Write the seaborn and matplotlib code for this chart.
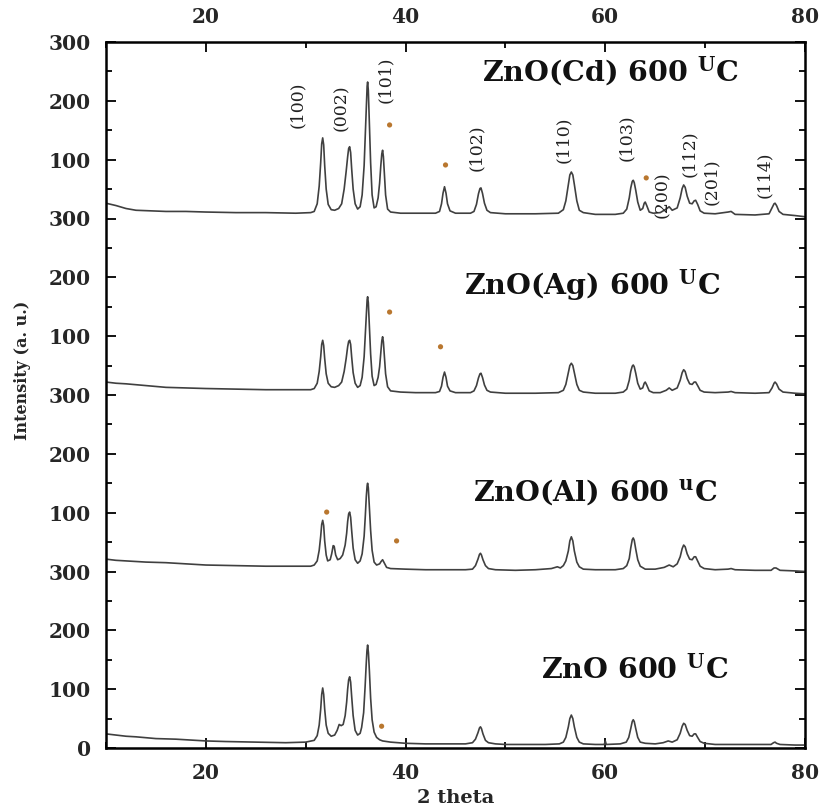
import matplotlib
matplotlib.use("Agg")
import matplotlib.pyplot as plt
import seaborn as sns
import pandas as pd
from matplotlib.ticker import MultipleLocator, FixedLocator, FixedFormatter

# ---------------- data (2-theta, intensity incl. stacking offset) ----------------
zno_pts = [(10, 24), (11, 22), (12, 20), (13, 19), (15, 16), (17, 15), (20, 12), (22, 11), (25, 10), (28, 9), (30, 10),
           (30.85, 13), (31.15, 21), (31.35, 39), (31.5, 66), (31.6, 91), (31.7, 102), (31.8, 91), (31.9, 66),
           (32.05, 39), (32.25, 25), (32.55, 20),
           (32.9, 22), (33.15, 30), (33.35, 40), (33.55, 38), (33.75, 40), (33.95, 55), (34.1, 78), (34.2, 100),
           (34.3, 116), (34.4, 121), (34.5, 112), (34.6, 88), (34.75, 55), (34.95, 30), (35.2, 22), (35.45, 25),
           (35.6, 35), (35.8, 60), (35.95, 105), (36.05, 140), (36.13, 165), (36.2, 175), (36.28, 162), (36.38, 130),
           (36.5, 85), (36.65, 48), (36.85, 27), (37.1, 18), (37.4, 14), (37.7, 12),
           (38.5, 10), (40, 8), (42, 7), (44, 7), (46, 7),
           (46.7, 9), (47.0, 15), (47.25, 26), (47.4, 34), (47.5, 36), (47.6, 33), (47.75, 24), (48.0, 13), (48.3, 9),
           (49, 7), (50, 6), (52, 6), (54, 6), (55.4, 7),
           (55.8, 10), (56.05, 18), (56.3, 36), (56.45, 50), (56.6, 56), (56.75, 50), (56.9, 36), (57.15, 18),
           (57.4, 10), (57.8, 7), (59, 6), (59.9, 6), (60.0, 12), (60.1, 6),
           (61.5, 7), (62.1, 10), (62.35, 18), (62.55, 33), (62.7, 45), (62.8, 48), (62.9, 45), (63.05, 33),
           (63.25, 18), (63.5, 10), (64, 8), (65, 7), (65.8, 9), (66.3, 12), (66.7, 10),
           (67.2, 14), (67.5, 25), (67.7, 37), (67.85, 42), (68.0, 40), (68.2, 30), (68.45, 21), (68.7, 20),
           (68.9, 24), (69.05, 24), (69.25, 18), (69.5, 11), (69.9, 8), (71, 6), (73, 6), (75, 6), (76.6, 6),
           (76.85, 9), (77, 10), (77.15, 8), (77.5, 6), (79, 5), (80, 5)]

al_pts = [(10, 321), (11, 319), (12, 318), (14, 316), (16, 315), (18, 313), (20, 311), (23, 310), (26, 309), (29, 309),
          (30.5, 309),
          (30.85, 311), (31.15, 318), (31.35, 336), (31.5, 360), (31.6, 380), (31.7, 387), (31.8, 378), (31.9, 352),
          (32.05, 328), (32.2, 318),
          (32.45, 320), (32.6, 330), (32.75, 344), (32.85, 343), (33.0, 328), (33.2, 320), (33.45, 322),
          (33.7, 328), (33.95, 345), (34.1, 365), (34.2, 385), (34.3, 398), (34.4, 401), (34.5, 392), (34.6, 370),
          (34.75, 340), (34.95, 320), (35.2, 314), (35.45, 318),
          (35.65, 330), (35.85, 360), (35.97, 395), (36.07, 428), (36.15, 446), (36.2, 450), (36.27, 442),
          (36.37, 410), (36.5, 370), (36.65, 336), (36.85, 316), (37.1, 311), (37.4, 313),
          (37.55, 317), (37.7, 320), (37.85, 315), (38.1, 307), (38.5, 305), (40, 304), (42, 303), (44, 303),
          (46, 303),
          (46.7, 304), (47.0, 310), (47.25, 321), (47.4, 329), (47.5, 331), (47.6, 328), (47.75, 320), (48.0, 310),
          (48.3, 305), (49, 303), (51, 302), (53, 303), (54.6, 305), (55.2, 308), (55.5, 306), (55.8, 310),
          (56.05, 318), (56.3, 335), (56.45, 352), (56.6, 359), (56.75, 352), (56.9, 335), (57.15, 316), (57.4, 308),
          (57.8, 304), (59, 303), (61, 303), (61.8, 305),
          (62.15, 310), (62.4, 322), (62.55, 340), (62.7, 354), (62.8, 357), (62.9, 353), (63.05, 338),
          (63.25, 320), (63.5, 309), (64, 304), (65, 304), (65.9, 307), (66.4, 311), (66.8, 308),
          (67.2, 313), (67.5, 325), (67.7, 339), (67.85, 345), (68.0, 342), (68.2, 330), (68.45, 321), (68.7, 320),
          (68.9, 325), (69.05, 325), (69.25, 318), (69.5, 309), (69.9, 305), (71, 303), (72.3, 304), (72.6, 305),
          (73, 303), (75, 302), (76.6, 302), (76.9, 306), (77.1, 306), (77.5, 302), (79, 301), (80, 300)]

ag_pts = [(10, 622), (11, 620), (12, 619), (14, 616), (16, 613), (18, 612), (20, 611), (23, 610), (26, 609), (29, 609),
          (30.5, 609),
          (30.85, 611), (31.15, 620), (31.35, 640), (31.5, 665), (31.6, 686), (31.7, 693), (31.8, 684), (31.9, 662),
          (32.05, 636), (32.25, 620), (32.55, 614), (32.9, 613), (33.3, 616),
          (33.6, 622), (33.85, 640), (34.05, 662), (34.2, 682), (34.3, 691), (34.4, 693), (34.5, 686), (34.6, 665),
          (34.75, 638), (34.95, 620), (35.2, 613), (35.45, 616),
          (35.65, 630), (35.85, 665), (35.97, 705), (36.07, 740), (36.15, 762), (36.2, 767), (36.27, 757),
          (36.37, 720), (36.5, 670), (36.65, 632), (36.85, 616), (37.05, 618),
          (37.25, 630), (37.4, 648), (37.52, 672), (37.62, 692), (37.7, 699), (37.78, 690), (37.88, 665),
          (38.0, 636), (38.2, 614), (38.5, 607), (39.5, 605), (41, 604), (43, 604),
          (43.4, 606), (43.6, 615), (43.75, 630), (43.9, 639), (44.05, 630), (44.2, 615), (44.45, 607), (45, 604),
          (46.5, 604),
          (46.85, 607), (47.1, 616), (47.3, 629), (47.45, 636), (47.55, 637), (47.7, 630), (47.9, 617), (48.15, 608),
          (48.5, 605), (50, 603), (53, 603), (55.3, 604),
          (55.8, 608), (56.05, 618), (56.3, 638), (56.45, 650), (56.6, 654), (56.75, 650), (56.9, 638), (57.15, 618),
          (57.4, 608), (57.8, 605), (59, 603), (61, 603), (61.8, 605),
          (62.15, 610), (62.4, 625), (62.55, 640), (62.7, 649), (62.8, 651), (62.9, 648), (63.05, 637), (63.25, 620),
          (63.5, 610), (63.75, 612), (63.9, 620), (64.0, 622), (64.15, 617), (64.4, 607), (64.8, 604), (65.5, 604),
          (66.1, 608), (66.4, 612), (66.7, 608),
          (67.2, 612), (67.5, 625), (67.7, 638), (67.85, 643), (68.0, 640), (68.2, 628), (68.45, 619), (68.7, 618),
          (68.9, 622), (69.05, 622), (69.25, 616), (69.5, 608), (69.9, 605), (71, 604), (72.3, 605), (72.6, 606),
          (73, 604), (75, 603), (76.4, 604), (76.7, 612), (76.9, 620), (77.0, 622), (77.15, 619), (77.4, 610),
          (77.8, 605), (79, 603), (80, 602)]

cd_pts = [(10, 926), (10.5, 924), (11, 922), (12, 917), (13, 914), (14.5, 913), (16, 912), (18, 912), (20, 911),
          (23, 910), (26, 910), (29, 909), (30.5, 910),
          (30.85, 912), (31.15, 925), (31.35, 955), (31.5, 995), (31.6, 1027), (31.7, 1037), (31.8, 1025),
          (31.9, 990), (32.05, 950), (32.25, 924), (32.55, 915), (32.9, 914), (33.3, 917),
          (33.6, 925), (33.85, 950), (34.05, 980), (34.2, 1005), (34.3, 1019), (34.4, 1022), (34.5, 1012),
          (34.6, 985), (34.75, 950), (34.95, 925), (35.2, 916), (35.45, 920),
          (35.65, 940), (35.85, 990), (35.97, 1045), (36.07, 1095), (36.15, 1125), (36.2, 1132), (36.27, 1118),
          (36.37, 1065), (36.5, 995), (36.65, 940), (36.85, 918), (37.05, 920),
          (37.25, 935), (37.4, 960), (37.52, 990), (37.62, 1010), (37.7, 1016), (37.78, 1005), (37.88, 975),
          (38.0, 940), (38.2, 916), (38.5, 911), (39.5, 909), (41, 909), (43, 909),
          (43.4, 912), (43.6, 925), (43.75, 943), (43.9, 954), (44.05, 943), (44.2, 925), (44.45, 913), (45, 909),
          (46.5, 909),
          (46.85, 912), (47.1, 924), (47.3, 942), (47.45, 951), (47.55, 952), (47.7, 943), (47.9, 926), (48.15, 914),
          (48.5, 910), (50, 908), (53, 908), (55.3, 909),
          (55.8, 915), (56.05, 930), (56.3, 958), (56.45, 974), (56.6, 979), (56.75, 974), (56.9, 958), (57.15, 930),
          (57.4, 914), (57.8, 910), (59, 907), (61, 907), (61.8, 909),
          (62.15, 916), (62.4, 935), (62.55, 952), (62.7, 963), (62.8, 965), (62.9, 961), (63.05, 948), (63.25, 928),
          (63.5, 914), (63.75, 917), (63.9, 926), (64.0, 928), (64.15, 922), (64.4, 911), (64.8, 909), (65.5, 910),
          (66.1, 916), (66.4, 920), (66.7, 914),
          (67.2, 918), (67.5, 935), (67.7, 951), (67.85, 957), (68.0, 953), (68.2, 938), (68.45, 926), (68.7, 925),
          (68.9, 930), (69.05, 931), (69.25, 924), (69.5, 913), (69.9, 909), (71, 908), (72.3, 911), (72.6, 912),
          (73, 907), (75, 906), (76.4, 908), (76.7, 918), (76.9, 925), (77.0, 926), (77.15, 922), (77.4, 912),
          (77.8, 907), (79, 905), (80, 903)]

samples = ["ZnO", "ZnO(Al)", "ZnO(Ag)", "ZnO(Cd)"]

# impurity markers
star_x = [38.4, 44.0, 64.1, 38.4, 43.5, 32.1, 39.1, 37.6]
star_y = [1059, 991, 969, 741, 682, 401, 352, 37]

# Miller index labels on the top pattern
hkl_text = ["(100)", "(002)", "(101)", "(102)", "(110)", "(103)", "(200)", "(112)", "(201)", "(114)"]
hkl_x = [29.2, 33.6, 38.0, 47.1, 55.8, 62.1, 65.7, 68.4, 70.6, 75.9]
hkl_y = [1093, 1088, 1135, 1020, 1034, 1037, 940, 1011, 962, 974]

# sample titles
title_text = [r"ZnO(Cd) 600 $^{\mathbf{U}}$C", r"ZnO(Ag) 600 $^{\mathbf{U}}$C",
              r"ZnO(Al) 600 $^{\mathbf{u}}$C", r"ZnO 600 $^{\mathbf{U}}$C"]
title_x = [47.7, 45.9, 46.8, 53.6]
title_y = [1150, 787, 435, 133]

ytick_vals = [0, 100, 200, 300, 400, 500, 600, 700, 800, 900, 1000, 1100, 1200]
ytick_labels = ["0", "100", "200", "300", "100", "200", "300", "100", "200", "300", "100", "200", "300"]
xtick_vals = [20, 40, 60, 80]

# ---------------- build table ----------------
frames = []
for name, pts in zip(samples, [zno_pts, al_pts, ag_pts, cd_pts]):
    frames.append(pd.DataFrame({"two_theta": [p[0] for p in pts],
                                "intensity": [p[1] for p in pts], "sample": name}))
df = pd.concat(frames, ignore_index=True)
stars = pd.DataFrame({"two_theta": star_x, "intensity": star_y})

# ---------------- plot ----------------
sns.set_theme(style="white")
plt.rcParams["font.family"] = ["DejaVu Serif", "DejaVu Sans"]
plt.rcParams["mathtext.fontset"] = "dejavuserif"

fig = plt.figure(figsize=(8.23, 8.06), dpi=100)
ax = fig.add_axes([106 / 823, 1 - 748 / 806, (805 - 106) / 823, (748 - 42) / 806])

sns.lineplot(data=df, x="two_theta", y="intensity", units="sample", estimator=None,
             sort=False, color="#404040", linewidth=1.2, ax=ax, legend=False)
for ln in ax.lines:
    ln.set_solid_joinstyle("round")
sns.scatterplot(data=stars, x="two_theta", y="intensity", color="#b9772f",
                s=14, edgecolor="none", ax=ax, legend=False)

for t, x, y in zip(hkl_text, hkl_x, hkl_y):
    ax.text(x, y, t, rotation=90, ha="center", va="center", fontsize=12.5,
            color="#222222", family="DejaVu Serif")

for t, x, y in zip(title_text, title_x, title_y):
    ax.text(x, y, t, ha="left", va="center", fontsize=20.5, fontweight="bold",
            color="#111111", family="DejaVu Serif")

ax.set_xlim(10, 80)
ax.set_ylim(0, 1200)
ax.xaxis.set_major_locator(FixedLocator(xtick_vals))
ax.xaxis.set_minor_locator(MultipleLocator(10))
ax.yaxis.set_major_locator(FixedLocator(ytick_vals))
ax.yaxis.set_major_formatter(FixedFormatter(ytick_labels))
ax.yaxis.set_minor_locator(MultipleLocator(50))

ax.tick_params(which="both", direction="in", top=True, right=True, bottom=True, left=True,
               labeltop=True, labelbottom=True, color="black", width=1.3)
ax.tick_params(which="major", length=7)
ax.tick_params(which="minor", length=4.5)
ax.tick_params(axis="y", which="major", pad=11, labelsize=14.5)
ax.tick_params(axis="x", which="major", pad=11, labelsize=14.5)
for t in ax.xaxis.get_major_ticks():
    t.label1.set_fontweight("bold")
    t.label2.set_fontweight("bold")
for t in ax.yaxis.get_major_ticks():
    t.label1.set_fontweight("bold")

for sp in ax.spines.values():
    sp.set_visible(True)
    sp.set_color("black")
    sp.set_linewidth(1.8)

ax.set_xlabel("2 theta", fontsize=14, fontweight="bold", labelpad=4)
ax.set_ylabel("Intensity (a. u.)", fontsize=11.5, fontweight="bold")
ax.yaxis.set_label_coords(-0.107, 0.535)

fig.savefig("out.png", dpi=100, facecolor="white")
